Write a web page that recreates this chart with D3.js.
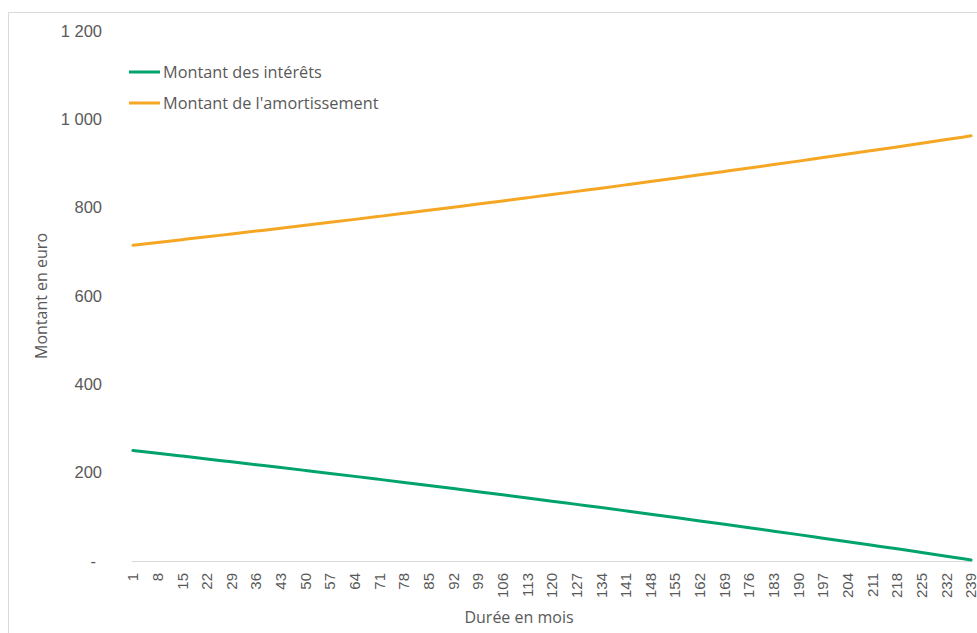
<!DOCTYPE html>
<html>
<head>
<meta charset="utf-8">
<script src="https://cdn.jsdelivr.net/npm/d3@7"></script>
<style>
  html, body { margin: 0; padding: 0; background: #fff; }
  svg { display: block; font-family: "Open Sans", "Liberation Sans", sans-serif; }
</style>
</head>
<body>
<svg id="chart" width="977" height="633"></svg>
<script>
// Months shown on the category axis (every 7th month of a 239-month schedule)
const tickMonths = [1, 8, 15, 22, 29, 36, 43, 50, 57, 64, 71, 78, 85, 92, 99, 106, 113, 120,
  127, 134, 141, 148, 155, 162, 169, 176, 183, 190, 197, 204, 211, 218, 225, 232, 239];

// Monthly interest (euro) at each labelled month
const interets = [250.0, 243.8, 237.5, 231.1, 224.6, 218.1, 211.6, 205.0, 198.3, 191.6, 184.8,
  177.9, 171.0, 164.0, 157.0, 149.9, 142.7, 135.5, 128.2, 120.9, 113.5, 106.0, 98.4, 90.8, 83.1,
  75.4, 67.6, 59.7, 51.7, 43.7, 35.6, 27.5, 19.2, 10.9, 2.5];

// Monthly capital repayment (euro) at each labelled month
const amortissement = [715.1, 721.3, 727.6, 734.0, 740.5, 747.0, 753.5, 760.1, 766.8, 773.5,
  780.3, 787.2, 794.1, 801.1, 808.1, 815.2, 822.4, 829.6, 836.9, 844.2, 851.6, 859.1, 866.7,
  874.3, 882.0, 889.7, 897.5, 905.4, 913.4, 921.4, 929.5, 937.6, 945.9, 954.2, 962.6];

const yTicks = [0, 200, 400, 600, 800, 1000, 1200];

const seriesNames = ["Montant des intérêts", "Montant de l'amortissement"];
const seriesColors = ["#00A36C", "#F5A623"];

const svg = d3.select("#chart");
const textColor = "#595959";

// Chart area border
svg.append("path")
  .attr("d", "M8.5,640 V12.5 H990")
  .attr("fill", "none")
  .attr("stroke", "#d9d9d9")
  .attr("stroke-width", 1);

const months = d3.range(1, 240);
const x = d3.scaleBand().domain(months).range([131.2, 972.8]);
const xc = m => x(m) + x.bandwidth() / 2;
const y = d3.scaleLinear().domain([0, 1200]).range([561, 31]);

// Category axis
const xAxis = d3.axisBottom(x)
  .tickValues(tickMonths)
  .tickSize(0)
  .tickPadding(0);
const gx = svg.append("g").attr("transform", "translate(0,561)").call(xAxis);
gx.select(".domain").attr("stroke", "#d9d9d9").attr("stroke-width", 1.2);
gx.selectAll(".tick text")
  .attr("transform", "rotate(-90)")
  .attr("x", -12)
  .attr("y", 0)
  .attr("dy", "0.35em")
  .attr("text-anchor", "end")
  .attr("fill", textColor)
  .style("font-size", "15px");

// Value axis: labels only, zero shown as a dash
const yAxis = d3.axisLeft(y)
  .tickValues(yTicks)
  .tickSize(0)
  .tickPadding(0)
  .tickFormat(v => v === 0 ? "-" : d3.format(",")(v).replace(",", " "));
const gy = svg.append("g").attr("transform", "translate(102,0)").call(yAxis);
gy.select(".domain").remove();
gy.selectAll(".tick text")
  .attr("fill", textColor)
  .style("font-size", "16.5px")
  .attr("x", v => v === 0 ? -6 : 0);

// Series lines
const line = d3.line()
  .x((d, i) => xc(tickMonths[i]))
  .y(d => y(d))
  .curve(d3.curveMonotoneX);

[interets, amortissement].forEach((vals, i) => {
  svg.append("path")
    .datum(vals)
    .attr("d", line)
    .attr("fill", "none")
    .attr("stroke", seriesColors[i])
    .attr("stroke-width", 3)
    .attr("stroke-linecap", "round");
});

// Legend
const legend = svg.append("g");
seriesNames.forEach((name, i) => {
  const ly = 72 + i * 31;
  legend.append("line")
    .attr("x1", 129).attr("x2", 160)
    .attr("y1", ly).attr("y2", ly)
    .attr("stroke", seriesColors[i])
    .attr("stroke-width", 3);
  legend.append("text")
    .attr("x", 163).attr("y", ly)
    .attr("dy", "0.35em")
    .attr("fill", textColor)
    .style("font-size", "16.3px")
    .text(name);
});

// Axis titles
svg.append("text")
  .attr("x", 519).attr("y", 623)
  .attr("text-anchor", "middle")
  .attr("fill", textColor)
  .style("font-size", "16px")
  .text("Durée en mois");

svg.append("text")
  .attr("transform", "translate(47,296) rotate(-90)")
  .attr("text-anchor", "middle")
  .attr("fill", textColor)
  .style("font-size", "16px")
  .text("Montant en euro");
</script>
</body>
</html>
